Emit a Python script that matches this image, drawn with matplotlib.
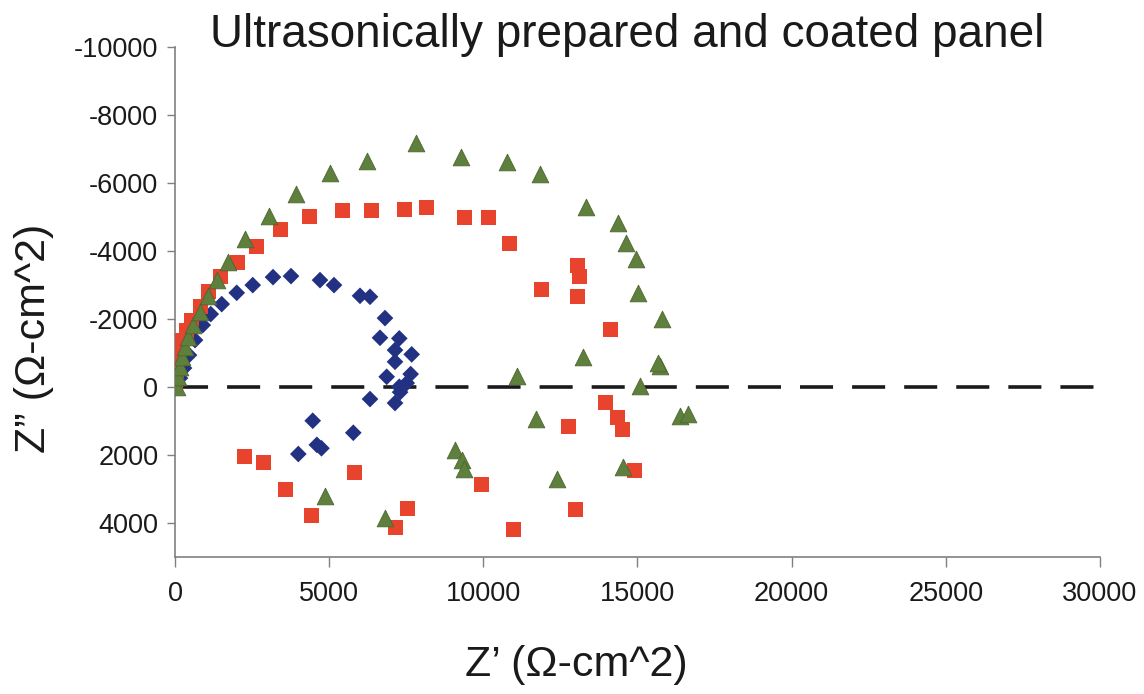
import matplotlib
matplotlib.use("Agg")
import matplotlib.pyplot as plt

plt.rcParams['font.family'] = ['Liberation Sans', 'DejaVu Sans']
plt.rcParams['lines.scale_dashes'] = False
plt.rcParams['axes.unicode_minus'] = False

title = "Ultrasonically prepared and coated panel"
xlabel = "Z\u2019 (\u03a9-cm^2)"
ylabel = "Z\u201d (\u03a9-cm^2)"
xticks = [0, 5000, 10000, 15000, 20000, 25000, 30000]
yticks = [-10000, -8000, -6000, -4000, -2000, 0, 2000, 4000]

# Blue diamonds
blue_x = [65, 162, 292, 454, 649, 898, 1158, 1514, 2001, 2520, 3178, 3762,
          4702, 5156, 6000, 6324, 6810, 6648, 7274, 7135, 7676, 7135, 6865,
          7643, 7274, 7514, 7300, 6324, 7135, 4466, 5782, 4600, 4750, 3999]
blue_y = [-59, -265, -559, -941, -1382, -1823, -2147, -2441, -2773, -3000,
          -3235, -3265, -3147, -3000, -2685, -2656, -2029, -1450, -1432,
          -1088, -962, -744, -303, -382, -9, -118, 150, 353, 470, 991, 1344,
          1700, 1800, 1970]

# Red squares
red_x = [20, 30, 40, 60, 107, 217, 379, 542, 811, 1080, 1482, 2020, 2650,
         3405, 4355, 5438, 6379, 7459, 8163, 9405, 10160, 10864, 13047,
         13134, 11892, 13047, 14130, 13977, 14357, 14507, 12755, 14918,
         12995, 10971, 2248, 2864, 3590, 4433, 5837, 7547, 7167, 9946]
red_y = [-30, -118, -500, -794, -1088, -1382, -1676, -1970, -2362, -2803,
         -3265, -3656, -4147, -4638, -5009, -5206, -5206, -5226, -5285,
         -4991, -4991, -4226, -3588, -3244, -2882, -2676, -1697, 462, 891,
         1244, 1168, 2441, 3617, 4185, 2029, 2226, 3000, 3765, 2509, 3568,
         4126, 2862]

# Green triangles
green_x = [55, 107, 162, 217, 324, 431, 593, 811, 1080, 1352, 1729, 2270,
           3058, 3924, 5027, 6237, 7816, 9265, 10757, 11837, 13318, 14377,
           14616, 14940, 15004, 15783, 13242, 15729, 15650, 11082, 15080,
           11707, 16377, 16627, 12398, 14539, 4865, 6810, 9080, 9297, 9372]
green_y = [-9, -303, -597, -891, -1185, -1480, -1823, -2215, -2676, -3147,
           -3685, -4344, -5029, -5676, -6303, -6656, -7185, -6773, -6626,
           -6282, -5303, -4814, -4244, -3756, -2773, -1991, -891, -618,
           -700, -324, -29, 950, 853, 803, 2715, 2362, 3206, 3844, 1853,
           2147, 2421]

ref_x = [0, 30000]
ref_y = [0, 0]

fig = plt.figure(figsize=(11.44, 6.94), dpi=100)
ax = fig.add_axes([0.153, 0.1974, 0.8085, 0.7346])

ax.plot(ref_x, ref_y, color='#1a1a1a', linewidth=2.6,
        dashes=(23.8, 13.7), zorder=1, solid_capstyle='butt',
        dash_capstyle='butt')
ax.scatter(blue_x, blue_y, marker='D', s=8.5**2, color='#223182',
           edgecolors='none', zorder=3)
ax.scatter(red_x, red_y, marker='s', s=10.8**2, color='#e8432c',
           edgecolors='none', zorder=4)
ax.scatter(green_x, green_y, marker='^', s=12**2, color='#5f7f3c',
           edgecolors='#4d6630', linewidths=0.6, zorder=5)

ax.set_xlim(0, 30000)
ax.set_ylim(5000, -10000)
ax.set_xticks(xticks)
ax.set_yticks(yticks)
ax.tick_params(axis='both', labelsize=19.5, colors='#1a1a1a', direction='out',
               width=1, color='#808080')
ax.tick_params(axis='x', length=7, pad=10)
ax.tick_params(axis='y', length=6, pad=6)
for s in ['top', 'right']:
    ax.spines[s].set_visible(False)
for s in ['left', 'bottom']:
    ax.spines[s].set_color('#808080')
    ax.spines[s].set_linewidth(1.2)

fig.text(0.548, 1 - 47 / 694, title, fontsize=33, color='#1a1a1a',
         ha='center', va='baseline')
fig.text(576 / 1144, 1 - 665 / 694, xlabel, fontsize=31, color='#1a1a1a',
         ha='center', va='center')
fig.text(34 / 1144, 1 - 338 / 694, ylabel, fontsize=31, color='#1a1a1a',
         ha='center', va='center', rotation=90)

fig.savefig("out.png", dpi=100)
